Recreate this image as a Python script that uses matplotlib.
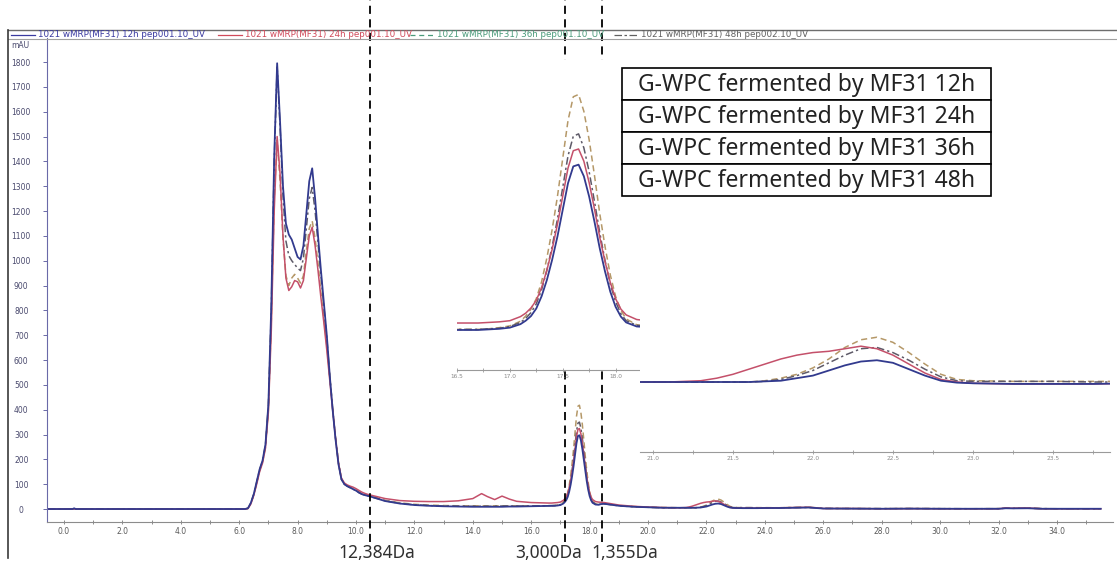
import matplotlib
matplotlib.use("Agg")
import matplotlib.pyplot as plt
from matplotlib.lines import Line2D
from matplotlib.patches import Rectangle
from matplotlib import transforms

# ---------------- data ----------------
time_min = [
    -0.55, 0.3, 0.35, 0.4, 3.0, 6.0, 6.2,
    6.3, 6.4, 6.5, 6.6, 6.7, 6.8, 6.9,
    7.0, 7.1, 7.2, 7.3, 7.4, 7.5, 7.6, 7.7, 7.8, 7.9,
    8.0, 8.1, 8.2, 8.3, 8.4, 8.5, 8.6, 8.7, 8.8, 8.9,
    9.0, 9.1, 9.2, 9.3, 9.4, 9.5, 9.6, 9.7, 9.8, 9.9,
    10.0, 10.1, 10.2, 10.3, 10.4, 10.5,
    11.0, 11.5, 12.0, 12.5, 13.0, 13.5, 14.0, 14.3, 14.5, 14.75, 15.0, 15.25, 15.5, 16.0, 16.5,
    16.6, 16.7, 16.8, 16.9, 17.0, 17.1, 17.15, 17.2, 17.25, 17.3, 17.35, 17.4, 17.45, 17.5,
    17.55, 17.6, 17.65, 17.7, 17.75, 17.8, 17.85, 17.9, 17.95, 18.0, 18.05, 18.1, 18.2,
    18.3, 18.4, 18.5, 18.75, 19.0, 19.5, 20.0, 20.5, 20.9,
    21.0, 21.1, 21.2, 21.3, 21.4, 21.5, 21.6, 21.7, 21.8, 21.9,
    22.0, 22.1, 22.2, 22.3, 22.4, 22.5, 22.6, 22.7, 22.8, 22.9, 23.0,
    23.25, 23.5, 23.75, 24.0, 24.5, 25.0, 25.5, 25.75, 26.0, 27.0, 28.0, 29.0, 30.0,
    31.0, 32.0, 32.25, 32.5, 33.0, 33.5, 34.0, 35.0, 35.5,
]

mau_12h = [
    0, 0, 3, 0, 0, 0, 0,
    3, 25, 60, 110, 160, 195, 260,
    420, 820, 1420, 1795, 1560, 1300, 1150, 1105, 1085, 1050,
    1015, 1005, 1060, 1190, 1320, 1372, 1250, 1100, 960, 830,
    700, 540, 400, 280, 180, 120, 100, 92, 86, 80,
    74, 66, 60, 56, 53, 50,
    32, 22, 16, 13, 11, 10, 9, 9, 9, 9, 9, 10, 10, 11, 12,
    12, 12, 13, 14, 16, 22, 28, 36, 49, 70, 98, 133, 173, 219,
    265, 294, 297, 277, 242, 199, 153, 113, 78, 52, 35, 25, 18,
    17, 20, 21, 17, 13, 9, 7, 5, 5,
    5, 5, 5, 5, 5, 5, 5, 5.5, 6, 8,
    10, 14, 18, 21, 22, 20, 15, 10, 6, 4.5, 4,
    3.5, 3.5, 3.5, 4, 4, 5, 6, 4, 2, 1.5, 1, 1.5, 1,
    1, 1, 3, 2.5, 3, 1, 1, 1, 1,
]

mau_24h = [
    0, 0, 0, 0, 0, 0, 0,
    2, 20, 55, 100, 150, 185, 245,
    390, 720, 1200, 1500, 1350, 1100, 930, 880, 895, 920,
    915, 890, 920, 1010, 1100, 1135, 1060, 960, 850, 750,
    640, 520, 400, 285, 185, 125, 105, 97, 92, 88,
    82, 75, 68, 63, 59, 56,
    42, 34, 31, 30, 30, 33, 42, 62, 50, 38, 52, 40, 31, 26, 24,
    24, 24, 25, 26, 28, 35, 41, 50, 63, 85, 115, 151, 194, 242,
    291, 321, 324, 303, 266, 221, 172, 130, 94, 66, 48, 38, 30,
    28, 27, 26, 21, 16, 11, 8, 6, 5,
    5, 5, 5.5, 6, 8, 11, 15, 19, 23, 26,
    28, 29, 31, 33, 31, 26, 19, 12, 7, 5, 4,
    3.5, 3.5, 3.5, 4, 5, 6, 7, 5, 2, 2, 1, 1.5, 1,
    1, 1, 4, 3, 4, 1, 1, 1, 1,
]

mau_36h = [
    0, 0, 0, 0, 0, 0, 0,
    2, 22, 58, 105, 155, 190, 250,
    400, 760, 1250, 1485, 1320, 1090, 940, 900, 930, 945,
    930, 910, 940, 1040, 1130, 1160, 1090, 990, 870, 770,
    660, 535, 410, 290, 188, 122, 102, 94, 88, 83,
    77, 70, 64, 59, 56, 53,
    35, 25, 19, 16, 14, 13, 13, 13, 13, 13, 13, 13, 13, 13, 13,
    13, 13, 14, 16, 19, 27, 36, 48, 66, 95, 136, 185, 242, 307,
    373, 414, 418, 389, 340, 279, 213, 156, 107, 70, 46, 31, 21,
    19, 21, 22, 18, 14, 10, 7, 6, 5,
    5, 5, 5, 5, 5, 5, 5, 6, 8, 11,
    16, 23, 32, 38, 40, 36, 28, 19, 11, 7, 6,
    5.5, 5.5, 5.5, 5.5, 5, 6, 7, 5, 2.5, 2, 1.5, 2, 1.5,
    1, 1.5, 4, 3, 4, 1.5, 1, 1, 1,
]

mau_48h = [
    0, 0, 0, 0, 0, 0, 0,
    3, 24, 60, 108, 158, 193, 258,
    415, 800, 1400, 1780, 1540, 1260, 1080, 1020, 1000, 985,
    970, 960, 1010, 1130, 1250, 1295, 1200, 1070, 940, 815,
    690, 540, 405, 285, 185, 120, 100, 92, 86, 80,
    74, 66, 60, 56, 53, 50,
    33, 23, 17, 14, 12, 11, 11, 11, 11, 11, 12, 12, 12, 12, 13,
    13, 13, 14, 15, 18, 25, 32, 42, 57, 81, 115, 156, 203, 258,
    312, 346, 350, 326, 285, 234, 180, 132, 91, 61, 40, 28, 20,
    18, 20, 21, 17, 13, 9, 7, 5, 5,
    5, 5, 5, 5, 5, 5, 5, 5.5, 7, 10,
    14, 20, 26, 31, 32, 28, 22, 15, 9, 6, 5.5,
    5.5, 5.5, 5, 5, 5, 6, 6.5, 5, 2.5, 2, 1.5, 2, 1.5,
    1, 1.5, 3.5, 3, 3.5, 1.5, 1, 1, 1,
]

series_names = ["1021 wMRP(MF31) 12h pep001.10_UV",
                "1021 wMRP(MF31) 24h pep001.10_UV",
                "1021 wMRP(MF31) 36h pep001.10_UV",
                "1021 wMRP(MF31) 48h pep002.10_UV"]
legend_labels = ["G-WPC fermented by MF31 12h",
                 "G-WPC fermented by MF31 24h",
                 "G-WPC fermented by MF31 36h",
                 "G-WPC fermented by MF31 48h"]

cutoff_times = [10.48, 17.16, 18.42]
cutoff_labels = ["12,384Da", "3,000Da", "1,355Da"]

y_ticks = list(range(0, 1900, 100))
x_ticks = list(range(0, 36, 2))
inset1_ticks = [16.5, 17.0, 17.5, 18.0]
inset2_ticks = [21.0, 21.5, 22.0, 22.5, 23.0, 23.5]

# ---------------- styling ----------------
W, H = 1117, 571
fig = plt.figure(figsize=(W / 100, H / 100), dpi=100)
fig.patch.set_facecolor("white")


def fx(px):
    return px / W


def fy(py):
    return 1 - py / H


styles = {
    "12h": dict(color="#323a8e", lw=1.3, ls="-"),
    "24h": dict(color="#c4506a", lw=1.1, ls="-"),
    "36h": dict(color="#b59868", lw=1.1, ls=(0, (4, 2.5))),
    "48h": dict(color="#5e5a68", lw=1.1, ls=(0, (5, 2, 1.5, 2))),
}
series = {"12h": mau_12h, "24h": mau_24h, "36h": mau_36h, "48h": mau_48h}
draw_order = ["36h", "48h", "24h", "12h"]

# ---------------- main chromatogram ----------------
ax = fig.add_axes([fx(47), fy(522), fx(1113) - fx(47), fy(38) - fy(522)])
for key in draw_order:
    ax.plot(time_min, series[key], **styles[key])

ax.set_xlim(-0.58, 35.92)
ax.set_ylim(-52.3, 1896.7)
for s in ("top", "right"):
    ax.spines[s].set_visible(False)
ax.spines["left"].set_color("#6a6aa8")
ax.spines["bottom"].set_color("#8c8c8c")

ax.set_yticks(y_ticks)
ax.set_yticklabels([str(v) for v in y_ticks])
ax.tick_params(axis="y", length=3, width=0.7, color="#6a6aa8", pad=15.5,
               labelsize=5.5, labelcolor="#4a4a6e")
for lab in ax.get_yticklabels():
    lab.set_horizontalalignment("center")

ax.set_xticks(x_ticks)
ax.set_xticklabels([f"{v:.1f}" for v in x_ticks])
ax.set_xticks([v + 1 for v in x_ticks], minor=True)
ax.tick_params(axis="x", which="both", length=3, width=0.7, direction="inout",
               color="#8c8c8c", pad=2, labelsize=5.5, labelcolor="#5a5a5a")
fig.text(fx(20), fy(46), "mAU", fontsize=5.5, color="#4a4a6e", ha="center", va="center")

# molecular-weight cut-offs
blend = transforms.blended_transform_factory(ax.transData, fig.transFigure)
label_offsets = [7, -17, 23]
for t, lab, off in zip(cutoff_times, cutoff_labels, label_offsets):
    ax.add_line(Line2D([t, t], [fy(542), 1.0], transform=blend, color="black",
                       lw=1.3, ls=(0, (4.5, 3)), clip_on=False, zorder=4))
    ax.annotate(lab, xy=(t, fy(553)), xycoords=blend, xytext=(off, 0),
                textcoords="offset pixels", ha="center", va="center",
                fontsize=12.5, family="Noto Sans", color="#303030",
                annotation_clip=False)

# ---------------- header strip with trace names ----------------
fig.add_artist(Line2D([fx(8), 1.0], [fy(30), fy(30)], color="#6e6e6e", lw=1.0))
fig.add_artist(Line2D([fx(8), 1.0], [fy(39), fy(39)], color="#a0a0a0", lw=0.8))
fig.add_artist(Line2D([fx(8), fx(8)], [fy(30), fy(558)], color="#3a3a3a", lw=1.2))
strip_colors = ["#3a3aa0", "#d04a5a", "#4a9a7a", "#606060"]
strip_ls = ["-", "-", (0, (4, 3)), (0, (6, 2, 2, 2))]
strip_x = [11, 218, 410, 614]
for x0, name, c, ls in zip(strip_x, series_names, strip_colors, strip_ls):
    fig.add_artist(Line2D([fx(x0), fx(x0 + 24)], [fy(34.5), fy(34.5)], color=c, lw=0.9, ls=ls))
    fig.text(fx(x0 + 27), fy(34.5), name, fontsize=6.3, color=c, ha="left", va="center")

# ---------------- inset: peak near 17.6 min ----------------
ins1 = fig.add_axes([fx(457), fy(370), fx(642) - fx(457), fy(60) - fy(370)], zorder=2)
for key in draw_order:
    ins1.plot(time_min, series[key], **styles[key])
ins1.set_xlim(16.5, 18.1)
ins1.set_ylim(-57, 477.4)

# ---------------- inset: peak near 22.4 min ----------------
ins2 = fig.add_axes([fx(640), fy(452), fx(1110) - fx(640), fy(220) - fy(452)], zorder=2)
for key in draw_order:
    ins2.plot(time_min, series[key], **styles[key])
ins2.set_xlim(20.92, 23.856)
ins2.set_ylim(-49.7, 131.6)

for axi, ticks in ((ins1, inset1_ticks), (ins2, inset2_ticks)):
    axi.set_facecolor("white")
    for s in ("top", "right", "left"):
        axi.spines[s].set_visible(False)
    axi.spines["bottom"].set_color("#9a9a9a")
    axi.spines["bottom"].set_linewidth(0.8)
    axi.set_yticks([])
    axi.set_xticks(ticks)
    axi.set_xticklabels([f"{v:.1f}" for v in ticks])
    axi.set_xticks([v + 0.25 for v in ticks], minor=True)
    axi.tick_params(axis="x", which="both", length=2.5, width=0.6, direction="inout",
                    color="#9a9a9a", pad=1.5, labelsize=4.2, labelcolor="#8a8a8a")

# ---------------- sample legend box ----------------
row_edges = [68, 100, 132, 164, 196]
for i, lab in enumerate(legend_labels):
    top, bottom = row_edges[i], row_edges[i + 1]
    fig.add_artist(Rectangle((fx(622), fy(bottom)), fx(991) - fx(622), fy(top) - fy(bottom),
                             transform=fig.transFigure, facecolor="white",
                             edgecolor="black", lw=1.2, zorder=5))
    fig.text(fx(638), fy((top + bottom) / 2 + 1), lab, fontsize=16.5, family="Noto Sans",
             color="#222222", ha="left", va="center", zorder=6)

fig.savefig("out.png", dpi=100, facecolor="white")
